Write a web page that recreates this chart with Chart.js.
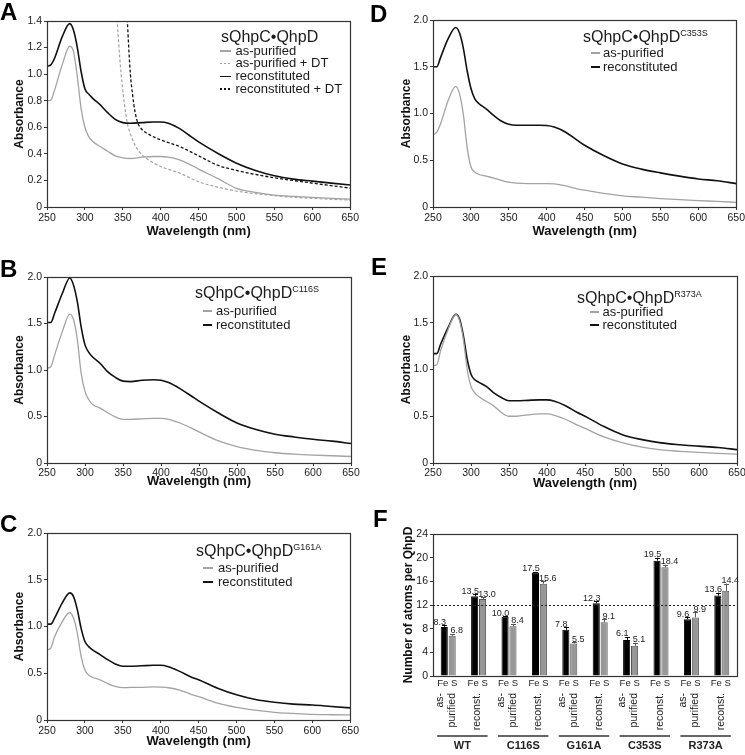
<!DOCTYPE html>
<html><head><meta charset="utf-8">
<script src="https://cdn.jsdelivr.net/npm/chart.js@4.4.1/dist/chart.umd.min.js"></script>
<style>
html,body{margin:0;padding:0;background:#fff;}
body{width:745px;height:755px;position:relative;overflow:hidden;font-family:'Liberation Sans',Arial,Helvetica,sans-serif;color:#1a1a1a;}
canvas{position:absolute;}
.txt{position:absolute;white-space:nowrap;}
.sw{position:absolute;}
</style></head><body>
<script>
// ---------- DATA ----------
const wavelengthTicks = [250, 300, 350, 400, 450, 500, 550, 600, 650];
const absTicksA = [0, 0.2, 0.4, 0.6, 0.8, 1.0, 1.2, 1.4];
const absTicks = [0, 0.5, 1.0, 1.5, 2.0];
const atomTicks = [0, 4, 8, 12, 16, 20, 24];

const wavelengths = [250,255,260,270,280,285,290,295,300,305,310,320,330,340,350,360,375,390,400,410,425,440,450,475,500,525,550,575,600,625,650];

// A: wild type
const wtAsPurified   = [0.80,0.805,0.88,1.07,1.21,1.17,0.98,0.74,0.60,0.53,0.495,0.455,0.42,0.385,0.37,0.365,0.375,0.38,0.38,0.375,0.355,0.315,0.285,0.215,0.14,0.11,0.09,0.08,0.072,0.065,0.06];
const wtReconst      = [1.06,1.07,1.12,1.28,1.38,1.33,1.20,1.02,0.89,0.85,0.82,0.77,0.71,0.66,0.635,0.63,0.635,0.64,0.64,0.63,0.59,0.53,0.49,0.405,0.33,0.275,0.235,0.21,0.195,0.18,0.165];
const wtAsPurDTWl    = [340,343,346,349,352,356,360,365,370,375,385,400,425,450,475,500,550,600,650];
const wtAsPurifiedDT = [1.60,1.36,1.12,0.93,0.78,0.63,0.55,0.48,0.43,0.395,0.35,0.305,0.255,0.19,0.15,0.12,0.085,0.065,0.052];
const wtRecDTWl      = [354,356,358,360,363,366,370,375,385,400,425,450,475,500,525,550,600,650];
const wtReconstDT    = [1.60,1.40,1.18,1.00,0.84,0.72,0.63,0.585,0.545,0.505,0.455,0.385,0.315,0.275,0.245,0.22,0.18,0.142];

// B: C116S
const c116sAsPurified = [1.02,1.035,1.16,1.41,1.60,1.54,1.32,0.96,0.77,0.68,0.63,0.59,0.54,0.495,0.47,0.47,0.475,0.48,0.48,0.47,0.43,0.375,0.335,0.24,0.175,0.135,0.11,0.095,0.085,0.078,0.07];
const c116sReconst    = [1.51,1.51,1.61,1.82,1.99,1.91,1.73,1.46,1.27,1.19,1.14,1.07,0.98,0.92,0.88,0.875,0.89,0.895,0.89,0.865,0.80,0.72,0.665,0.54,0.43,0.36,0.31,0.28,0.255,0.235,0.21];

// C: G161A
const g161aAsPurified = [0.75,0.77,0.89,1.05,1.15,1.09,0.93,0.68,0.535,0.48,0.457,0.43,0.39,0.36,0.346,0.348,0.35,0.355,0.352,0.345,0.32,0.275,0.25,0.18,0.135,0.105,0.082,0.07,0.06,0.056,0.054];
const g161aReconst    = [1.025,1.025,1.09,1.25,1.36,1.32,1.18,0.98,0.84,0.785,0.75,0.70,0.645,0.60,0.575,0.575,0.58,0.585,0.585,0.57,0.52,0.46,0.43,0.34,0.27,0.22,0.19,0.17,0.16,0.145,0.13];

// D: C353S
const c353sAsPurified = [0.77,0.80,0.89,1.14,1.29,1.21,0.99,0.64,0.43,0.375,0.35,0.33,0.31,0.285,0.265,0.255,0.25,0.25,0.25,0.248,0.225,0.195,0.18,0.145,0.12,0.105,0.09,0.078,0.068,0.06,0.05];
const c353sReconst    = [1.50,1.50,1.60,1.80,1.92,1.86,1.70,1.46,1.27,1.16,1.11,1.05,0.98,0.92,0.885,0.875,0.875,0.875,0.872,0.855,0.80,0.715,0.66,0.55,0.46,0.405,0.365,0.33,0.30,0.28,0.25];

// E: R373A
const r373aAsPurified = [1.04,1.05,1.20,1.43,1.59,1.52,1.32,1.00,0.82,0.75,0.71,0.66,0.61,0.54,0.50,0.50,0.515,0.525,0.525,0.51,0.465,0.405,0.37,0.28,0.215,0.17,0.14,0.125,0.113,0.103,0.095];
const r373aReconst    = [1.17,1.17,1.27,1.45,1.59,1.54,1.36,1.11,0.95,0.89,0.865,0.82,0.75,0.70,0.665,0.665,0.67,0.675,0.675,0.66,0.61,0.54,0.50,0.39,0.30,0.25,0.215,0.195,0.18,0.165,0.143];

// F: iron and sulfur content
const variants = ['WT', 'C116S', 'G161A', 'C353S', 'R373A'];
const states = ['as-purified', 'reconst.'];
const elements = ['Fe', 'S'];
const feValues = [8.3, 13.5, 10.0, 17.5, 7.8, 12.3, 6.1, 19.5, 9.6, 13.6];
const feErrors = [0.3, 0.3, 0.1, 0.1, 0.4, 0.3, 0.5, 0.5, 0.3, 0.5];
const sValues  = [6.8, 13.0, 8.4, 15.6, 5.5, 9.1, 5.1, 18.4, 9.9, 14.4];
const sErrors  = [0.3, 0.3, 0.4, 0.4, 0.2, 0.5, 0.5, 0.4, 0.9, 1.2];
const referenceLevel = 12;

// ---------- RENDERING ----------
const FONT = "'Liberation Sans', Arial, Helvetica, sans-serif";
Chart.defaults.font.family = FONT;
Chart.defaults.color = '#1a1a1a';
const GRAY = '#a3a3a3', BLACK = '#111';

const boxPlugin = {
  id: 'box',
  afterDatasetsDraw(chart) {
    const {ctx, chartArea: a} = chart;
    ctx.save();
    ctx.strokeStyle = '#333'; ctx.lineWidth = 1.2; ctx.setLineDash([]);
    ctx.strokeRect(Math.round(a.left) + 0.5, Math.round(a.top) + 0.5, Math.round(a.right - a.left), Math.round(a.bottom - a.top));
    ctx.restore();
  }
};

function mkCanvas(x, y, w, h) {
  w = Math.round(w); h = Math.round(h);
  const cv = document.createElement('canvas');
  cv.width = w; cv.height = h;
  cv.style.left = x + 'px'; cv.style.top = y + 'px';
  cv.style.width = w + 'px'; cv.style.height = h + 'px';
  document.body.appendChild(cv);
  return cv;
}

function yAxisCommon(ticks, fmt, title, titlePad, width) {
  return {
    type: 'linear', min: ticks[0], max: ticks[ticks.length - 1],
    afterBuildTicks: s => { s.ticks = ticks.map(v => ({value: v})); },
    ticks: {font: {size: 10.5}, color: '#1a1a1a', padding: 2, callback: fmt},
    grid: {drawOnChartArea: false, drawTicks: true, tickLength: 3, color: '#333', tickColor: '#333'},
    border: {display: false},
    title: {display: true, text: title, font: {size: 12, weight: 'bold'}, color: '#111', padding: {top: titlePad, bottom: 0}},
    afterFit: s => { s.width = width; }
  };
}

function spectrum(p) {
  const padR = 10;
  const W = p.area.r - p.pos.x + padR, H = p.area.b - p.pos.y + p.xh;
  const cv = mkCanvas(p.pos.x, p.pos.y, W, H);
  new Chart(cv, {
    type: 'line',
    data: {datasets: p.series.map(s => ({
      label: s.label,
      data: s.x.map((x, i) => ({x: x, y: s.y[i]})),
      borderColor: s.color, borderWidth: s.width, borderDash: s.dash || [],
      pointRadius: 0, fill: false, cubicInterpolationMode: 'monotone'
    }))},
    options: {
      responsive: false, animation: false, devicePixelRatio: 1,
      layout: {padding: {left: 0, top: p.area.t - p.pos.y, right: padR, bottom: 0}},
      plugins: {legend: {display: false}, tooltip: {enabled: false}},
      scales: {
        x: {
          type: 'linear', min: 250, max: 650,
          afterBuildTicks: s => { s.ticks = wavelengthTicks.map(v => ({value: v})); },
          ticks: {font: {size: 10.5}, color: '#1a1a1a', padding: p.tp, maxRotation: 0, autoSkip: false},
          grid: {drawOnChartArea: false, drawTicks: true, tickLength: 3, color: '#333', tickColor: '#333'},
          border: {display: false},
          title: {display: true, text: 'Wavelength (nm)', font: {size: 13, weight: 'bold'}, color: '#111', padding: 0},
          afterFit: s => { s.height = p.xh; }
        },
        y: yAxisCommon(p.yTicks, v => v === 0 ? '0' : v.toFixed(1), 'Absorbance', p.titlePad, p.area.l - p.pos.x)
      }
    },
    plugins: [boxPlugin]
  });
}

function addText(x, cy, size, html, weight, extra) {
  const d = document.createElement('div');
  d.className = 'txt';
  d.style.left = x + 'px';
  d.style.top = (cy - size / 2) + 'px';
  d.style.fontSize = size + 'px';
  d.style.lineHeight = size + 'px';
  if (weight) d.style.fontWeight = weight;
  if (extra) Object.assign(d.style, extra);
  d.innerHTML = html;
  document.body.appendChild(d);
}
function addSwatch(x1, x2, cy, color, h, dashed) {
  const d = document.createElement('div');
  d.className = 'sw';
  d.style.left = x1 + 'px'; d.style.width = (x2 - x1) + 'px';
  d.style.top = (cy - h / 2) + 'px'; d.style.height = h + 'px';
  d.style.background = dashed ? `repeating-linear-gradient(to right, ${color} 0 2.5px, transparent 2.5px 4px)` : color;
  document.body.appendChild(d);
}
function legend(L) {
  const sup = L.sup ? `<span style="font-size:9px;position:relative;top:-6px">${L.sup}</span>` : '';
  addText(L.tx, L.ty, 16, 'sQhpC\u2022QhpD' + sup);
  L.items.forEach(it => {
    addSwatch(L.sx1, L.sx2, it.cy + 1, it.color, it.h, it.dashed);
    addText(L.ix, it.cy, 13, it.text);
  });
}

const asp = (y) => ({label: 'as-purified', x: wavelengths, y: y, color: GRAY, width: 1.3});
const rec = (y) => ({label: 'reconstituted', x: wavelengths, y: y, color: BLACK, width: 1.6});

// Panel A
spectrum({pos: {x: 0, y: 0}, area: {l: 47, r: 351, t: 21, b: 207}, yTicks: absTicksA, titlePad: 12.8, xh: 32, tp: 2,
  series: [
    asp(wtAsPurified),
    {label: 'as-purified + DT', x: wtAsPurDTWl, y: wtAsPurifiedDT, color: GRAY, width: 1.2, dash: [3, 2]},
    rec(wtReconst),
    {label: 'reconstituted + DT', x: wtRecDTWl, y: wtReconstDT, color: BLACK, width: 1.3, dash: [3, 2]}
  ]});
// Panel B
spectrum({pos: {x: 0, y: 250}, area: {l: 47, r: 351, t: 277, b: 463}, yTicks: absTicks, titlePad: 12.8, xh: 26, tp: 1,
  series: [asp(c116sAsPurified), rec(c116sReconst)]});
// Panel C
spectrum({pos: {x: 0, y: 505}, area: {l: 47, r: 351, t: 533, b: 720}, yTicks: absTicks, titlePad: 12.8, xh: 29, tp: 2,
  series: [asp(g161aAsPurified), rec(g161aReconst)]});
// Panel D
spectrum({pos: {x: 370, y: 0}, area: {l: 433, r: 737, t: 20, b: 207}, yTicks: absTicks, titlePad: 29.8, xh: 32, tp: 2,
  series: [asp(c353sAsPurified), rec(c353sReconst)]});
// Panel E
spectrum({pos: {x: 370, y: 250}, area: {l: 433, r: 737, t: 276, b: 463}, yTicks: absTicks, titlePad: 29.8, xh: 28, tp: 1,
  series: [asp(r373aAsPurified), rec(r373aReconst)]});

// Panel F
const categories = [];
variants.forEach(v => states.forEach(s => categories.push(v + ' ' + s)));

const fPlugin = {
  id: 'fextras',
  afterDatasetsDraw(chart) {
    const {ctx, chartArea: a, scales: {x, y}} = chart;
    ctx.save();
    // error bars and value labels
    [[feValues, feErrors, '#000', -4.5], [sValues, sErrors, '#555', 4.5]].forEach(([vals, errs, col, dx], di) => {
      chart.getDatasetMeta(di).data.forEach((bar, j) => {
        const yt = y.getPixelForValue(vals[j] + errs[j]);
        const bx = Math.round(bar.x) + 0.5;
        ctx.strokeStyle = col; ctx.lineWidth = 1; ctx.setLineDash([]);
        ctx.beginPath();
        ctx.moveTo(bx, bar.y); ctx.lineTo(bx, yt);
        ctx.moveTo(bx - 2.5, Math.round(yt) + 0.5); ctx.lineTo(bx + 2.5, Math.round(yt) + 0.5);
        ctx.stroke();
        ctx.fillStyle = '#222'; ctx.font = `9px ${FONT}`;
        ctx.textAlign = 'center'; ctx.textBaseline = 'bottom';
        ctx.fillText(vals[j].toFixed(1), bar.x + dx, yt + 1.5);
      });
    });
    // reference level
    const ty = Math.round(y.getPixelForValue(referenceLevel)) + 0.5;
    ctx.strokeStyle = '#222'; ctx.lineWidth = 1; ctx.setLineDash([2, 2]);
    ctx.beginPath(); ctx.moveTo(a.left, ty); ctx.lineTo(a.right, ty); ctx.stroke();
    ctx.restore();
  },
  afterDraw(chart) {
    const {ctx, chartArea: a, scales: {x}} = chart;
    ctx.save();
    ctx.fillStyle = '#222';
    const fe = chart.getDatasetMeta(0).data, su = chart.getDatasetMeta(1).data;
    ctx.font = `9.5px ${FONT}`; ctx.textAlign = 'center'; ctx.textBaseline = 'middle';
    categories.forEach((c, i) => {
      ctx.fillText(elements[0], fe[i].x - 1.5, a.bottom + 7);
      ctx.fillText(elements[1], su[i].x + 2, a.bottom + 7);
    });
    ctx.font = `10.5px ${FONT}`; ctx.textAlign = 'right';
    const rot = (t, px, py) => { ctx.save(); ctx.translate(px, py); ctx.rotate(-Math.PI / 2); ctx.fillText(t, 0, 0); ctx.restore(); };
    categories.forEach((c, i) => {
      const cx = x.getPixelForValue(i);
      if (i % 2 === 0) { rot('as-', cx - 8, a.bottom + 17); rot('purified', cx + 4, a.bottom + 17); }
      else { rot(states[1], cx - 1, a.bottom + 17); }
    });
    ctx.strokeStyle = '#333'; ctx.lineWidth = 1.5;
    ctx.font = `bold 11px ${FONT}`; ctx.textAlign = 'center';
    variants.forEach((v, g) => {
      const x1 = x.getPixelForValue(2 * g) - 11, x2 = x.getPixelForValue(2 * g + 1) + 9;
      ctx.beginPath(); ctx.moveTo(x1, a.bottom + 60); ctx.lineTo(x2, a.bottom + 60); ctx.stroke();
      ctx.fillText(v, (x1 + x2) / 2, a.bottom + 70);
    });
    ctx.restore();
  }
};

(function () {
  const pos = {x: 370, y: 500}, area = {l: 433, r: 737, t: 534, b: 676};
  const padR = 8, W = area.r - pos.x + padR, H = 255;
  const cv = mkCanvas(pos.x, pos.y, W, H);
  new Chart(cv, {
    type: 'bar',
    data: {labels: categories, datasets: [
      {label: elements[0], data: feValues, backgroundColor: '#000', borderColor: '#000', borderWidth: 1},
      {label: elements[1], data: sValues, backgroundColor: '#979797', borderColor: '#555', borderWidth: 1}
    ]},
    options: {
      responsive: false, animation: false, devicePixelRatio: 1,
      layout: {padding: {left: 0, top: area.t - pos.y, right: padR, bottom: 0}},
      datasets: {bar: {categoryPercentage: 0.52, barPercentage: 0.9}},
      plugins: {legend: {display: false}, tooltip: {enabled: false}},
      scales: {
        x: {ticks: {display: false}, grid: {display: false}, border: {display: false},
            afterFit: s => { s.height = H - (area.b - pos.y); }},
        y: yAxisCommon(atomTicks, v => String(v), 'Number of atoms per QhpD', 31.8, area.l - pos.x)
      }
    },
    plugins: [boxPlugin, fPlugin]
  });
})();

// Legends
legend({tx: 221, ty: 36.5, sx1: 220, sx2: 231, ix: 235.5, items: [
  {text: 'as-purified', cy: 50, color: GRAY, h: 1.2},
  {text: 'as-purified + DT', cy: 62.5, color: GRAY, h: 1.2, dashed: true},
  {text: 'reconstituted', cy: 75.5, color: BLACK, h: 1.8},
  {text: 'reconstituted + DT', cy: 88, color: BLACK, h: 1.3, dashed: true}
]});
legend({tx: 583, ty: 36.5, sup: 'C353S', sx1: 591, sx2: 600, ix: 603, items: [
  {text: 'as-purified', cy: 52, color: GRAY, h: 1.2},
  {text: 'reconstituted', cy: 66, color: BLACK, h: 1.8}
]});
legend({tx: 195, ty: 293, sup: 'C116S', sx1: 203, sx2: 212, ix: 216, items: [
  {text: 'as-purified', cy: 310, color: GRAY, h: 1.2},
  {text: 'reconstituted', cy: 324, color: BLACK, h: 1.8}
]});
legend({tx: 577, ty: 298, sup: 'R373A', sx1: 590, sx2: 599, ix: 602.5, items: [
  {text: 'as-purified', cy: 311, color: GRAY, h: 1.2},
  {text: 'reconstituted', cy: 324, color: BLACK, h: 1.8}
]});
legend({tx: 196, ty: 551, sup: 'G161A', sx1: 203, sx2: 213, ix: 218, items: [
  {text: 'as-purified', cy: 567, color: GRAY, h: 1.2},
  {text: 'reconstituted', cy: 581, color: BLACK, h: 1.8}
]});

// Panel letters
[['A', 0, 0], ['D', 370, 2], ['B', 0, 257], ['E', 371, 255], ['C', 0, 512], ['F', 373, 507]].forEach(([t, x, y]) => {
  addText(x, y + 12, 24, t, 'bold', {color: '#000'});
});
</script>
</body></html>
